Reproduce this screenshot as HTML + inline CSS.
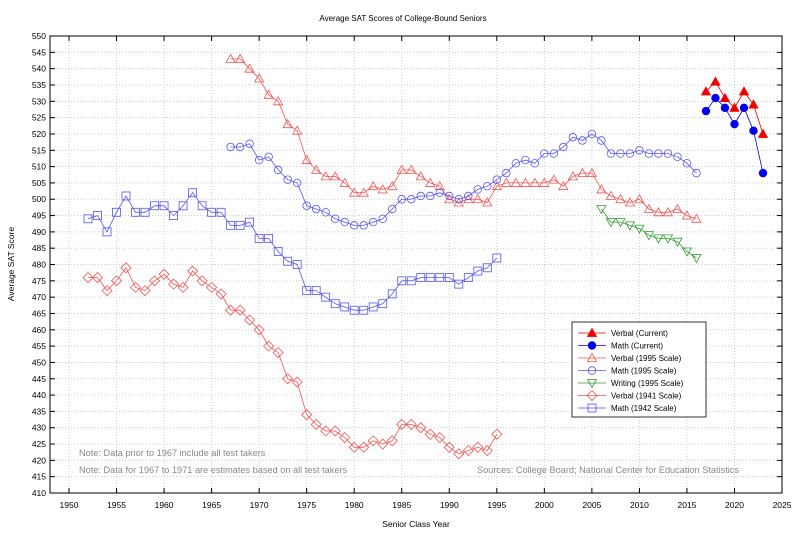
<!DOCTYPE html>
<html><head><meta charset="utf-8"><style>body{margin:0;background:#fff}svg{display:block;font-family:"Liberation Sans",sans-serif}</style></head>
<body><svg id="s" width="800" height="533" xmlns="http://www.w3.org/2000/svg"></svg>
<script>
const s=document.getElementById('s');let h='';
const X=y=>69+(y-1950)*9.507, Y=v=>493-(v-410)*3.264;
h+='<rect x="0" y="0" width="800" height="533" fill="#fff"/>';
for(let y=1950;y<=2025;y+=5){const x=X(y);h+=`<line x1="${x}" y1="36" x2="${x}" y2="493" stroke="#ccc" stroke-dasharray="1,2"/>`;h+=`<line x1="${x}" y1="493" x2="${x}" y2="488" stroke="#000"/><line x1="${x}" y1="36" x2="${x}" y2="41" stroke="#000"/>`;h+=`<text x="${x}" y="508" font-size="8.5" text-anchor="middle">${y}</text>`;}
for(let v=410;v<=550;v+=5){const y=Y(v);h+=`<line x1="50" y1="${y}" x2="782" y2="${y}" stroke="#ccc" stroke-dasharray="1,2"/>`;h+=`<line x1="50" y1="${y}" x2="55" y2="${y}" stroke="#000"/><line x1="777" y1="${y}" x2="782" y2="${y}" stroke="#000"/>`;h+=`<text x="46" y="${y+3}" font-size="8.5" text-anchor="end">${v}</text>`;}
h+='<rect x="50" y="36" width="732" height="457" fill="none" stroke="#000"/>';
function mk(t,x,y,c,f){const fl=f?c:'none';if(t=='tu')return `<polygon points="${x},${y-4.5} ${x-4.5},${y+3.5} ${x+4.5},${y+3.5}" fill="${fl}" stroke="${c}" stroke-width="0.8"/>`;
if(t=='td')return `<polygon points="${x},${y+4.5} ${x-4.5},${y-3.5} ${x+4.5},${y-3.5}" fill="${fl}" stroke="${c}" stroke-width="0.8"/>`;
if(t=='c')return `<circle cx="${x}" cy="${y}" r="3.8" fill="${fl}" stroke="${c}" stroke-width="0.8"/>`;
if(t=='d')return `<polygon points="${x},${y-5} ${x-5},${y} ${x},${y+5} ${x+5},${y}" fill="${fl}" stroke="${c}" stroke-width="0.8"/>`;
if(t=='s')return `<rect x="${x-4}" y="${y-4}" width="8" height="8" fill="${fl}" stroke="${c}" stroke-width="0.8"/>`;}
function ser(st,d,c,t,f){let p=d.map((v,i)=>X(st+i).toFixed(1)+','+Y(v).toFixed(1)).join(' ');h+=`<polyline points="${p}" fill="none" stroke="${c}" stroke-width="0.8"/>`;d.forEach((v,i)=>h+=mk(t,X(st+i),Y(v),c,f));}
ser(1967,[543,543,540,537,532,530,523,521,512,509,507,507,505,502,502,504,503,504,509,509,507,505,504,500,499,500,500,499,504,505,505,505,505,505,506,504,507,508,508,503,501,500,499,500,497,496,496,497,495,494],'#e55','tu',0);
ser(1967,[516,516,517,512,513,509,506,505,498,497,496,494,493,492,492,493,494,497,500,500,501,501,502,501,500,501,503,504,506,508,511,512,511,514,514,516,519,518,520,518,514,514,514,515,514,514,514,513,511,508],'#55e','c',0);
ser(2006,[497,493,493,492,491,489,488,488,487,484,482],'#393','td',0);
ser(1952,[476,476,472,475,479,473,472,475,477,474,473,478,475,473,471,466,466,463,460,455,453,445,444,434,431,429,429,427,424,424,426,425,426,431,431,430,428,427,424,422,423,424,423,428],'#e55','d',0);
ser(1952,[494,495,490,496,501,496,496,498,498,495,498,502,498,496,496,492,492,493,488,488,484,481,480,472,472,470,468,467,466,466,467,468,471,475,475,476,476,476,476,474,476,478,479,482],'#55e','s',0);
ser(2017,[533,536,531,528,533,529,520],'#e00','tu',1);
ser(2017,[527,531,528,523,528,521,508],'#00e','c',1);
h+='<rect x="572" y="322" width="134" height="95" fill="#fff" stroke="#000" stroke-width="0.8"/>';
const L=[['Verbal (Current)','#e00','tu',1],['Math (Current)','#00e','c',1],['Verbal (1995 Scale)','#e55','tu',0],['Math (1995 Scale)','#55e','c',0],['Writing (1995 Scale)','#393','td',0],['Verbal (1941 Scale)','#e55','d',0],['Math (1942 Scale)','#55e','s',0]];
L.forEach((e,i)=>{const y=333+i*12.5;h+=`<line x1="578" y1="${y}" x2="606" y2="${y}" stroke="${e[1]}" stroke-width="0.8"/>`+mk(e[2],592,y,e[1],e[3])+`<text x="611" y="${y+3}" font-size="8">${e[0]}</text>`;});
h+='<text x="79" y="456" font-size="9.2" fill="#888">Note: Data prior to 1967 include all test takers</text>';
h+='<text x="79" y="473" font-size="9.2" fill="#888">Note: Data for 1967 to 1971 are estimates based on all test takers</text>';
h+='<text x="739" y="473" font-size="9.2" fill="#888" text-anchor="end">Sources: College Board; National Center for Education Statistics</text>';
h+='<text x="403" y="21" font-size="8" text-anchor="middle">Average SAT Scores of College-Bound Seniors</text>';
h+='<text x="416" y="527" font-size="8.5" text-anchor="middle">Senior Class Year</text>';
h+='<text transform="translate(14,264) rotate(-90)" font-size="8.5" text-anchor="middle">Average SAT Score</text>';
s.innerHTML=h;
</script></body></html>
